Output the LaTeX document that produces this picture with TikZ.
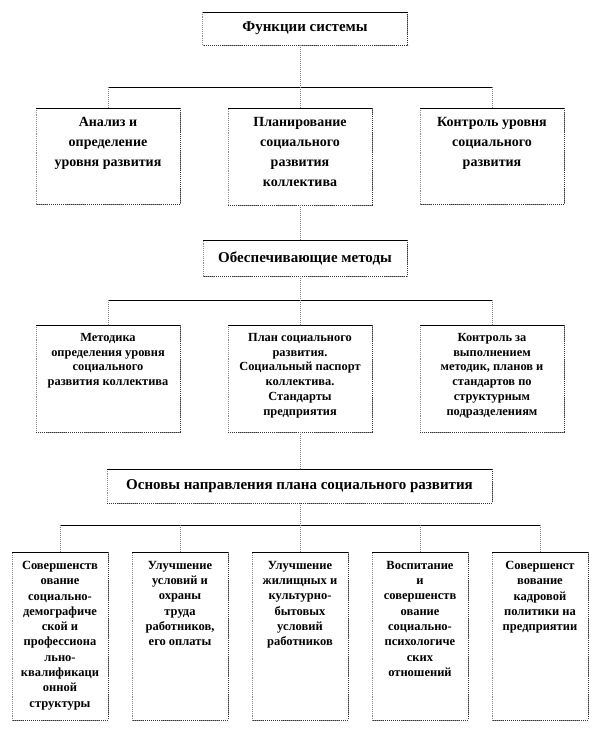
\documentclass[tikz,border=0pt]{standalone}
\usepackage{fontspec}
\setmainfont{Liberation Serif}
\begin{document}
\begin{tikzpicture}[x=1pt,y=-1pt,
  frame/.style={draw=black!45, densely dotted, line width=0.9pt, inner sep=0pt, outer sep=0pt, fill=white},
  topedge/.style={draw=black, line width=1pt},
  darkedge/.style={draw=black!80, densely dotted, line width=1pt},
  link/.style={draw=black!50, densely dotted, line width=1pt},
  bus/.style={draw=black, line width=1pt},
  ttl/.style={font=\fontsize{15}{18}\selectfont\bfseries, inner sep=0pt, align=center},
  lvone/.style={font=\fontsize{14}{20}\selectfont\bfseries, inner sep=0pt, align=center, anchor=north},
  lvtwo/.style={font=\fontsize{12.4}{14.8}\selectfont\bfseries, inner sep=0pt, align=center, anchor=north},
  lvthree/.style={font=\fontsize{12.5}{15.3}\selectfont\bfseries, inner sep=0pt, align=center, anchor=north}
]
\useasboundingbox (0,0) rectangle (612,756);

% ---------- boxes ----------
\node[frame, minimum width=205, minimum height=33] (F) at (305,28.5) {};
\node[frame, minimum width=144, minimum height=96] (L1) at (108,156) {};
\node[frame, minimum width=144, minimum height=97] (M1) at (300,156.5) {};
\node[frame, minimum width=144, minimum height=96] (R1) at (492,156) {};
\node[frame, minimum width=204, minimum height=36] (O) at (305,258) {};
\node[frame, minimum width=144, minimum height=107] (L2) at (108,378.5) {};
\node[frame, minimum width=144, minimum height=107] (M2) at (300,378.5) {};
\node[frame, minimum width=144, minimum height=107] (R2) at (492,378.5) {};
\node[frame, minimum width=385, minimum height=34] (B) at (299.5,486) {};
\node[frame, minimum width=96, minimum height=168] (P1) at (60,636) {};
\node[frame, minimum width=96, minimum height=168] (P2) at (180,636) {};
\node[frame, minimum width=96, minimum height=168] (P3) at (300,636) {};
\node[frame, minimum width=96, minimum height=168] (P4) at (420,636) {};
\node[frame, minimum width=96, minimum height=168] (P5) at (540,636) {};

\foreach \n in {F,L1,M1,R1,O,L2,M2,R2,B,P1,P2,P3,P4,P5}{
  \draw[darkedge] (\n.north east) -- (\n.south east) -- (\n.south west);
  \draw[topedge] (\n.north west) -- (\n.north east);
}

% ---------- texts ----------
\node[ttl] (Ft) at (F.center) {Функции системы};
\node[lvone] (L1t) at ([yshift=-9pt]L1.north) {Анализ и\\определение\\уровня развития};
\node[lvone] (M1t) at ([yshift=-9pt]M1.north) {Планирование\\социального\\развития\\коллектива};
\node[lvone] (R1t) at ([yshift=-9pt]R1.north) {Контроль уровня\\социального\\развития};
\node[ttl] (Ot) at (O.center) {Обеспечивающие методы};
\node[lvtwo] (L2t) at ([yshift=-8pt]L2.north) {Методика\\определения уровня\\социального\\развития коллектива};
\node[lvtwo] (M2t) at ([yshift=-8pt]M2.north) {План социального\\развития.\\Социальный паспорт\\коллектива.\\Стандарты\\предприятия};
\node[lvtwo] (R2t) at ([yshift=-8pt]R2.north) {Контроль за\\выполнением\\методик, планов и\\стандартов по\\структурным\\подразделениям};
\node[ttl] (Bt) at (B.center) {Основы направления плана социального развития};
\node[lvthree] (P1t) at ([yshift=-9pt]P1.north) {Совершенств\\ование\\социально-\\демографиче\\ской и\\профессиона\\льно-\\квалификаци\\онной\\структуры};
\node[lvthree] (P2t) at ([yshift=-9pt]P2.north) {Улучшение\\условий и\\охраны\\труда\\работников,\\его оплаты};
\node[lvthree] (P3t) at ([yshift=-9pt]P3.north) {Улучшение\\жилищных и\\культурно-\\бытовых\\условий\\работников};
\node[lvthree] (P4t) at ([yshift=-9pt]P4.north) {Воспитание\\и\\совершенств\\ование\\социально-\\психологиче\\ских\\отношений};
\node[lvthree] (P5t) at ([yshift=-9pt]P5.north) {Совершенст\\вование\\кадровой\\политики на\\предприятии};

% ---------- connectors ----------
\coordinate (j1) at (300,87);
\coordinate (j2) at (300,300);
\coordinate (j3) at (300,525);

\draw[link] (F.south -| j1) -- (j1);
\draw[bus] (L1.north |- j1) -- (R1.north |- j1);
\draw[link] (L1.north |- j1) -- (L1.north);
\draw[link] (j1) -- (M1.north);
\draw[link] (R1.north |- j1) -- (R1.north);

\draw[link] (M1.south) -- (M1.south |- O.north);
\draw[bus] (L2.north |- j2) -- (R2.north |- j2);
\draw[link] (M2.north |- O.south) -- (M2.north);
\draw[link] (L2.north |- j2) -- (L2.north);
\draw[link] (R2.north |- j2) -- (R2.north);

\draw[link] (M2.south) -- (M2.south |- B.north);
\draw[link] (B.south -| j3) -- (j3);
\draw[bus] (P1.north |- j3) -- (P5.north |- j3);
\foreach \p in {P1,P2,P3,P4,P5}{
  \draw[link] (\p.north |- j3) -- (\p.north);
}
\end{tikzpicture}
\end{document}
